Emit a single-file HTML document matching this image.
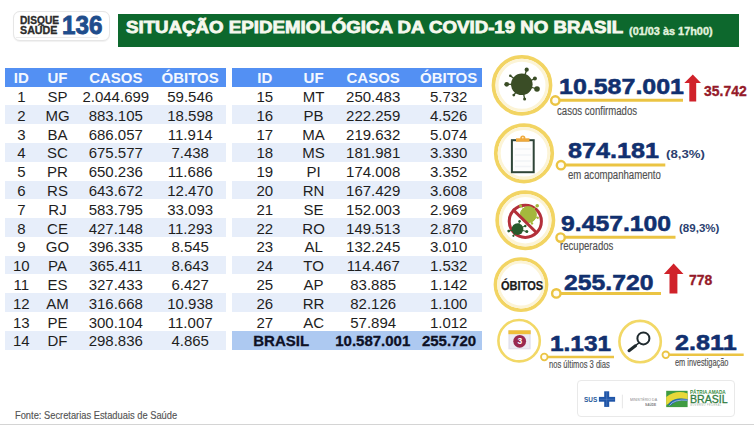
<!DOCTYPE html>
<html><head><meta charset="utf-8">
<style>
html,body{margin:0;padding:0;width:754px;height:425px;overflow:hidden;background:#ffffff;}
body{position:relative;font-family:"Liberation Sans",sans-serif;}
.a{position:absolute;line-height:1;white-space:nowrap;transform-origin:0 0;}
.hdr{position:absolute;background:#5390f3;}
.band{position:absolute;background:#e7eefa;}
.bband{position:absolute;background:#adc9f1;}
.th,.td,.tb{position:absolute;width:120px;text-align:center;line-height:1;white-space:nowrap;}
.th{font-size:15px;font-weight:bold;color:#f4f8ff;}
.td{font-size:15px;color:#1e1e1e;}
.tb{font-size:15px;font-weight:bold;color:#0e1126;-webkit-text-stroke:0.3px #0e1126;}
.num{font-weight:bold;color:#11306f;-webkit-text-stroke:0.55px #11306f;}
.lbl{color:#505050;-webkit-text-stroke:0.15px #505050;}
.red{font-weight:bold;color:#951a29;-webkit-text-stroke:0.35px #951a29;}
svg{position:absolute;left:0;top:0;}
</style></head><body>
<!-- bottom gray line -->
<div style="position:absolute;left:0;top:423.5px;width:754px;height:2px;background:#d4d4d4"></div>

<!-- logo disque saude -->
<div style="position:absolute;left:12.5px;top:11.3px;width:95.5px;height:28px;border:1px solid #e6e6e6;border-radius:7px;background:#fff;box-shadow:0 0.5px 1px rgba(0,0,0,0.06)"></div>
<div class="a" style="left:19.5px;top:15.8px;font-size:10px;font-weight:bold;color:#2b2b2b;-webkit-text-stroke:0.3px #2b2b2b;transform:scaleX(1.02)">DISQUE</div>
<div class="a" style="left:20px;top:25.8px;font-size:10px;font-weight:bold;color:#2b2b2b;-webkit-text-stroke:0.3px #2b2b2b;transform:scaleX(1.07)">SAÚDE</div>
<div style="position:absolute;left:16px;top:36.6px;width:82px;height:1px;background:#ececec"></div>
<div class="a" style="left:61.5px;top:12px;font-size:26px;font-weight:bold;color:#1f4d8c;-webkit-text-stroke:0.9px #1f4d8c;transform:scaleX(0.93)">136</div>

<!-- title bar -->
<div style="position:absolute;left:118.3px;top:14px;width:621px;height:32.7px;background:#0d682d"></div>
<div class="a" style="left:126px;top:19px;font-size:16.5px;font-weight:bold;color:#f6f8ee;-webkit-text-stroke:0.8px #f6f8ee;transform:scaleX(1.133)">SITUAÇÃO EPIDEMIOLÓGICA DA COVID-19 NO BRASIL</div>
<div class="a" style="left:629.3px;top:26.6px;font-size:10px;font-weight:bold;color:#e2f3df;-webkit-text-stroke:0.35px #e2f3df;transform:scaleX(1.09)">(01/03 às 17h00)</div>

<div class="hdr" style="left:5px;top:68.0px;width:221px;height:18.5px"></div>
<div class="th" style="left:-38.70px;top:70.20px">ID</div>
<div class="th" style="left:-2.50px;top:70.20px">UF</div>
<div class="th" style="left:55.80px;top:70.20px">CASOS</div>
<div class="th" style="left:130.20px;top:70.20px">ÓBITOS</div>
<div class="td" style="left:-38.70px;top:89.00px">1</div>
<div class="td" style="left:-2.50px;top:89.00px">SP</div>
<div class="td" style="left:55.80px;top:89.00px">2.044.699</div>
<div class="td" style="left:130.20px;top:89.00px">59.546</div>
<div class="band" style="left:5px;top:105.30px;width:221px;height:18.8px"></div>
<div class="td" style="left:-38.70px;top:107.80px">2</div>
<div class="td" style="left:-2.50px;top:107.80px">MG</div>
<div class="td" style="left:55.80px;top:107.80px">883.105</div>
<div class="td" style="left:130.20px;top:107.80px">18.598</div>
<div class="td" style="left:-38.70px;top:126.60px">3</div>
<div class="td" style="left:-2.50px;top:126.60px">BA</div>
<div class="td" style="left:55.80px;top:126.60px">686.057</div>
<div class="td" style="left:130.20px;top:126.60px">11.914</div>
<div class="band" style="left:5px;top:142.90px;width:221px;height:18.8px"></div>
<div class="td" style="left:-38.70px;top:145.40px">4</div>
<div class="td" style="left:-2.50px;top:145.40px">SC</div>
<div class="td" style="left:55.80px;top:145.40px">675.577</div>
<div class="td" style="left:130.20px;top:145.40px">7.438</div>
<div class="td" style="left:-38.70px;top:164.20px">5</div>
<div class="td" style="left:-2.50px;top:164.20px">PR</div>
<div class="td" style="left:55.80px;top:164.20px">650.236</div>
<div class="td" style="left:130.20px;top:164.20px">11.686</div>
<div class="band" style="left:5px;top:180.50px;width:221px;height:18.8px"></div>
<div class="td" style="left:-38.70px;top:183.00px">6</div>
<div class="td" style="left:-2.50px;top:183.00px">RS</div>
<div class="td" style="left:55.80px;top:183.00px">643.672</div>
<div class="td" style="left:130.20px;top:183.00px">12.470</div>
<div class="td" style="left:-38.70px;top:201.80px">7</div>
<div class="td" style="left:-2.50px;top:201.80px">RJ</div>
<div class="td" style="left:55.80px;top:201.80px">583.795</div>
<div class="td" style="left:130.20px;top:201.80px">33.093</div>
<div class="band" style="left:5px;top:218.10px;width:221px;height:18.8px"></div>
<div class="td" style="left:-38.70px;top:220.60px">8</div>
<div class="td" style="left:-2.50px;top:220.60px">CE</div>
<div class="td" style="left:55.80px;top:220.60px">427.148</div>
<div class="td" style="left:130.20px;top:220.60px">11.293</div>
<div class="td" style="left:-38.70px;top:239.40px">9</div>
<div class="td" style="left:-2.50px;top:239.40px">GO</div>
<div class="td" style="left:55.80px;top:239.40px">396.335</div>
<div class="td" style="left:130.20px;top:239.40px">8.545</div>
<div class="band" style="left:5px;top:255.70px;width:221px;height:18.8px"></div>
<div class="td" style="left:-38.70px;top:258.20px">10</div>
<div class="td" style="left:-2.50px;top:258.20px">PA</div>
<div class="td" style="left:55.80px;top:258.20px">365.411</div>
<div class="td" style="left:130.20px;top:258.20px">8.643</div>
<div class="td" style="left:-38.70px;top:277.00px">11</div>
<div class="td" style="left:-2.50px;top:277.00px">ES</div>
<div class="td" style="left:55.80px;top:277.00px">327.433</div>
<div class="td" style="left:130.20px;top:277.00px">6.427</div>
<div class="band" style="left:5px;top:293.30px;width:221px;height:18.8px"></div>
<div class="td" style="left:-38.70px;top:295.80px">12</div>
<div class="td" style="left:-2.50px;top:295.80px">AM</div>
<div class="td" style="left:55.80px;top:295.80px">316.668</div>
<div class="td" style="left:130.20px;top:295.80px">10.938</div>
<div class="td" style="left:-38.70px;top:314.60px">13</div>
<div class="td" style="left:-2.50px;top:314.60px">PE</div>
<div class="td" style="left:55.80px;top:314.60px">300.104</div>
<div class="td" style="left:130.20px;top:314.60px">11.007</div>
<div class="band" style="left:5px;top:330.90px;width:221px;height:18.8px"></div>
<div class="td" style="left:-38.70px;top:333.40px">14</div>
<div class="td" style="left:-2.50px;top:333.40px">DF</div>
<div class="td" style="left:55.80px;top:333.40px">298.836</div>
<div class="td" style="left:130.20px;top:333.40px">4.865</div>
<div class="hdr" style="left:232px;top:68.0px;width:250px;height:18.5px"></div>
<div class="th" style="left:204.80px;top:70.20px">ID</div>
<div class="th" style="left:253.60px;top:70.20px">UF</div>
<div class="th" style="left:313.20px;top:70.20px">CASOS</div>
<div class="th" style="left:388.70px;top:70.20px">ÓBITOS</div>
<div class="td" style="left:204.80px;top:89.00px">15</div>
<div class="td" style="left:253.60px;top:89.00px">MT</div>
<div class="td" style="left:313.20px;top:89.00px">250.483</div>
<div class="td" style="left:388.70px;top:89.00px">5.732</div>
<div class="band" style="left:232px;top:105.30px;width:250px;height:18.8px"></div>
<div class="td" style="left:204.80px;top:107.80px">16</div>
<div class="td" style="left:253.60px;top:107.80px">PB</div>
<div class="td" style="left:313.20px;top:107.80px">222.259</div>
<div class="td" style="left:388.70px;top:107.80px">4.526</div>
<div class="td" style="left:204.80px;top:126.60px">17</div>
<div class="td" style="left:253.60px;top:126.60px">MA</div>
<div class="td" style="left:313.20px;top:126.60px">219.632</div>
<div class="td" style="left:388.70px;top:126.60px">5.074</div>
<div class="band" style="left:232px;top:142.90px;width:250px;height:18.8px"></div>
<div class="td" style="left:204.80px;top:145.40px">18</div>
<div class="td" style="left:253.60px;top:145.40px">MS</div>
<div class="td" style="left:313.20px;top:145.40px">181.981</div>
<div class="td" style="left:388.70px;top:145.40px">3.330</div>
<div class="td" style="left:204.80px;top:164.20px">19</div>
<div class="td" style="left:253.60px;top:164.20px">PI</div>
<div class="td" style="left:313.20px;top:164.20px">174.008</div>
<div class="td" style="left:388.70px;top:164.20px">3.352</div>
<div class="band" style="left:232px;top:180.50px;width:250px;height:18.8px"></div>
<div class="td" style="left:204.80px;top:183.00px">20</div>
<div class="td" style="left:253.60px;top:183.00px">RN</div>
<div class="td" style="left:313.20px;top:183.00px">167.429</div>
<div class="td" style="left:388.70px;top:183.00px">3.608</div>
<div class="td" style="left:204.80px;top:201.80px">21</div>
<div class="td" style="left:253.60px;top:201.80px">SE</div>
<div class="td" style="left:313.20px;top:201.80px">152.003</div>
<div class="td" style="left:388.70px;top:201.80px">2.969</div>
<div class="band" style="left:232px;top:218.10px;width:250px;height:18.8px"></div>
<div class="td" style="left:204.80px;top:220.60px">22</div>
<div class="td" style="left:253.60px;top:220.60px">RO</div>
<div class="td" style="left:313.20px;top:220.60px">149.513</div>
<div class="td" style="left:388.70px;top:220.60px">2.870</div>
<div class="td" style="left:204.80px;top:239.40px">23</div>
<div class="td" style="left:253.60px;top:239.40px">AL</div>
<div class="td" style="left:313.20px;top:239.40px">132.245</div>
<div class="td" style="left:388.70px;top:239.40px">3.010</div>
<div class="band" style="left:232px;top:255.70px;width:250px;height:18.8px"></div>
<div class="td" style="left:204.80px;top:258.20px">24</div>
<div class="td" style="left:253.60px;top:258.20px">TO</div>
<div class="td" style="left:313.20px;top:258.20px">114.467</div>
<div class="td" style="left:388.70px;top:258.20px">1.532</div>
<div class="td" style="left:204.80px;top:277.00px">25</div>
<div class="td" style="left:253.60px;top:277.00px">AP</div>
<div class="td" style="left:313.20px;top:277.00px">83.885</div>
<div class="td" style="left:388.70px;top:277.00px">1.142</div>
<div class="band" style="left:232px;top:293.30px;width:250px;height:18.8px"></div>
<div class="td" style="left:204.80px;top:295.80px">26</div>
<div class="td" style="left:253.60px;top:295.80px">RR</div>
<div class="td" style="left:313.20px;top:295.80px">82.126</div>
<div class="td" style="left:388.70px;top:295.80px">1.100</div>
<div class="td" style="left:204.80px;top:314.60px">27</div>
<div class="td" style="left:253.60px;top:314.60px">AC</div>
<div class="td" style="left:313.20px;top:314.60px">57.894</div>
<div class="td" style="left:388.70px;top:314.60px">1.012</div>
<div class="bband" style="left:232px;top:330.90px;width:250px;height:18.8px"></div>
<div class="tb" style="left:221.20px;top:333.40px">BRASIL</div>
<div class="tb" style="left:312.75px;top:333.40px">10.587.001</div>
<div class="tb" style="left:389.00px;top:333.40px">255.720</div>

<!-- footer source -->
<div class="a lbl" style="left:15.2px;top:409.5px;font-size:11px;color:#555;transform:scaleX(0.847)">Fonte: Secretarias Estaduais de Saúde</div>

<svg width="754" height="425" viewBox="0 0 754 425">
  <g fill="none">
    <!-- big rings -->
    <circle cx="522" cy="85.3" r="28.5" stroke="#f2d462" stroke-width="3.8"/>
    <circle cx="522" cy="85.3" r="25" stroke="#fcf4d6" stroke-width="3"/>
    <circle cx="524" cy="153.3" r="28.2" stroke="#f2d462" stroke-width="3.8"/>
    <circle cx="524" cy="153.3" r="24.8" stroke="#fcf4d6" stroke-width="3"/>
    <circle cx="525.3" cy="220.2" r="28.1" stroke="#f2d462" stroke-width="3.8"/>
    <circle cx="525.3" cy="220.2" r="24.7" stroke="#fcf4d6" stroke-width="3"/>
    <circle cx="521" cy="284.6" r="25.6" stroke="#f2d462" stroke-width="3.6"/>
    <circle cx="521" cy="284.6" r="22.4" stroke="#fcf4d6" stroke-width="2.8"/>
    <circle cx="519.1" cy="340.7" r="20.7" stroke="#f2d866" stroke-width="2.6"/>
    <circle cx="640.1" cy="341.6" r="20.7" stroke="#f2d866" stroke-width="2.6"/>
  </g>
  <!-- connectors -->
  <g stroke="#ebc443" fill="#fffdf5">
    <line x1="558" y1="100.3" x2="683" y2="100.3" stroke-width="3"/>
    <circle cx="555.3" cy="100.5" r="4.2" stroke-width="2.4"/>
    <line x1="563" y1="165" x2="665.3" y2="165" stroke-width="3"/>
    <circle cx="561" cy="165.2" r="4.2" stroke-width="2.4"/>
    <line x1="563" y1="237.3" x2="675.5" y2="237.3" stroke-width="3"/>
    <circle cx="560.6" cy="237.6" r="4.2" stroke-width="2.4"/>
    <line x1="559" y1="293.4" x2="661" y2="293.4" stroke-width="3"/>
    <circle cx="556.3" cy="293.4" r="4.2" stroke-width="2.4"/>
    <line x1="546" y1="356.9" x2="614" y2="356.9" stroke-width="2.5"/>
    <circle cx="544.3" cy="357" r="3.3" stroke-width="1.8"/>
    <line x1="668" y1="354.8" x2="743.7" y2="354.8" stroke-width="2.5"/>
    <circle cx="665.8" cy="354.8" r="3.3" stroke-width="1.8"/>
  </g>
  <!-- virus icon -->
  <g fill="#3a4d26" stroke="#3a4d26" stroke-width="1.3">
    <line x1="521.8" y1="84.3" x2="526.7" y2="69.7"/>
    <line x1="521.8" y1="84.3" x2="534.9" y2="78.6"/>
    <line x1="521.8" y1="84.3" x2="537" y2="89"/>
    <line x1="521.8" y1="84.3" x2="524.6" y2="98.9"/>
    <line x1="521.8" y1="84.3" x2="513.8" y2="95.1"/>
    <line x1="521.8" y1="84.3" x2="506.7" y2="84.3"/>
    <line x1="521.8" y1="84.3" x2="510.3" y2="75.8"/>
    <circle cx="521.8" cy="84.3" r="10.8" stroke="none"/>
    <circle cx="526.7" cy="69.7" r="2.1" stroke="none"/>
    <circle cx="534.9" cy="78.6" r="2" stroke="none"/>
    <circle cx="537" cy="89" r="2.8" stroke="none"/>
    <circle cx="524.6" cy="98.9" r="1.5" stroke="none"/>
    <circle cx="513.8" cy="95.1" r="1.4" stroke="none"/>
    <circle cx="506.7" cy="84.3" r="2.4" stroke="none"/>
    <circle cx="510.3" cy="75.8" r="1.3" stroke="none"/>
  </g>
  <!-- clipboard -->
  <rect x="511.9" y="140.2" width="21.8" height="32" fill="#fdfdfd" stroke="#2f4538" stroke-width="2"/>
  <g stroke="#f1f3f6" stroke-width="1.5">
    <line x1="515" y1="149" x2="531" y2="149"/>
    <line x1="515" y1="155" x2="531" y2="155"/>
    <line x1="515" y1="161" x2="531" y2="161"/>
    <line x1="515" y1="166.5" x2="531" y2="166.5"/>
  </g>
  <rect x="516" y="138.3" width="13.5" height="3.4" fill="#f0a93a"/>
  <circle cx="522.8" cy="138" r="2.6" fill="#f0a93a"/><circle cx="522.8" cy="137.6" r="0.9" fill="#fde8c0"/>
  <!-- recovered icon -->
  <circle cx="525.3" cy="221.3" r="16.1" fill="none" stroke="#b3303a" stroke-width="3"/>
  <g fill="#a4b83c" stroke="#a4b83c" stroke-width="1">
    <circle cx="528.4" cy="214.6" r="8"/>
    <line x1="528.4" y1="214.6" x2="520.6" y2="205.8"/><line x1="528.4" y1="214.6" x2="537.2" y2="205.8"/>
    <line x1="528.4" y1="214.6" x2="537.7" y2="217.7"/><line x1="528.4" y1="214.6" x2="532" y2="223.4"/>
    <circle cx="520.6" cy="205.8" r="1.5" stroke="none"/><circle cx="537.2" cy="205.8" r="1.8" stroke="none"/>
    <circle cx="537.7" cy="217.7" r="1.2" stroke="none"/><circle cx="532" cy="223.4" r="1.2" stroke="none"/>
  </g>
  <line x1="512.8" y1="209.4" x2="536.1" y2="232.2" stroke="#b3303a" stroke-width="3"/>
  <g fill="#285a2c" stroke="#285a2c" stroke-width="1">
    <circle cx="517.5" cy="229.1" r="5.9" stroke="none"/>
    <line x1="517.5" y1="229.1" x2="519.6" y2="221.3"/><line x1="517.5" y1="229.1" x2="525.3" y2="226"/>
    <line x1="517.5" y1="229.1" x2="526.8" y2="231.6"/><line x1="517.5" y1="229.1" x2="508.7" y2="231.1"/>
    <line x1="517.5" y1="229.1" x2="513.4" y2="235.8"/>
    <circle cx="519.6" cy="221.3" r="1.3" stroke="none"/><circle cx="525.3" cy="226" r="1.2" stroke="none"/>
    <circle cx="526.8" cy="231.6" r="1.5" stroke="none"/><circle cx="508.7" cy="231.1" r="1.4" stroke="none"/>
    <circle cx="513.4" cy="235.8" r="1.1" stroke="none"/>
  </g>
  <!-- calendar -->
  <rect x="508.4" y="330.3" width="22.3" height="19" fill="#e3e2ec"/>
  <rect x="510" y="334" width="19.1" height="14" fill="#ecebf3"/>
  <rect x="508.4" y="330.3" width="22.3" height="3.9" fill="#efbf3a"/>
  <circle cx="519.7" cy="341.3" r="6.4" fill="#9a2a50"/>
  <text x="519.8" y="344.4" font-family="Liberation Sans" font-size="8.5" font-weight="bold" fill="#fff" text-anchor="middle">3</text>
  <!-- magnifier -->
  <circle cx="643.4" cy="338.4" r="6" fill="none" stroke="#1f2a2e" stroke-width="2"/>
  <line x1="639.2" y1="342.6" x2="634.5" y2="346.5" stroke="#1f2a2e" stroke-width="1.6"/>
  <line x1="635.5" y1="345.8" x2="629" y2="350.7" stroke="#1f2a2e" stroke-width="3" stroke-linecap="round"/>
  <!-- arrows -->
  <path d="M692.8 74.4 L701 83 L696.2 83 L696.2 101.6 L689.3 101.6 L689.3 83 L684.3 83 Z" fill="#d0222a"/>
  <path d="M673.6 263.4 L683.5 274 L677.4 274 L677.4 293.4 L669.5 293.4 L669.5 274 L663.9 274 Z" fill="#d0222a"/>
</svg>

<!-- right panel texts -->
<div class="a num" style="left:558.5px;top:76px;font-size:22.5px;transform:scaleX(1.11)">10.587.001</div>
<div class="a red" style="left:703.8px;top:83px;font-size:15.5px;transform:scaleX(0.9)">35.742</div>
<div class="a lbl" style="left:557px;top:105px;font-size:12px;transform:scaleX(0.80)">casos confirmados</div>

<div class="a num" style="left:567.5px;top:140px;font-size:22px;transform:scaleX(1.145)">874.181</div>
<div class="a" style="left:666px;top:148.5px;font-size:11px;font-weight:bold;color:#2b3f70;transform:scaleX(1.2)">(8,3%)</div>
<div class="a lbl" style="left:568px;top:169px;font-size:12px;transform:scaleX(0.80)">em acompanhamento</div>

<div class="a num" style="left:561px;top:212.7px;font-size:22.5px;transform:scaleX(1.1)">9.457.100</div>
<div class="a" style="left:679.2px;top:222.5px;font-size:11px;font-weight:bold;color:#2b3f70;transform:scaleX(1.05)">(89,3%)</div>
<div class="a lbl" style="left:560px;top:239.5px;font-size:12px;transform:scaleX(0.80)">recuperados</div>

<div class="a" style="left:501px;top:278.6px;font-size:13px;font-weight:bold;color:#1b1b1b;-webkit-text-stroke:0.25px #1b1b1b;transform:scaleX(0.85)">ÓBITOS</div>
<div class="a num" style="left:564px;top:271.5px;font-size:22.5px;transform:scaleX(1.1)">255.720</div>
<div class="a red" style="left:688.7px;top:272px;font-size:15px;transform:scaleX(0.93)">778</div>

<div class="a num" style="left:549.5px;top:332.5px;font-size:22px;transform:scaleX(1.11)">1.131</div>
<div class="a lbl" style="left:549px;top:359.5px;font-size:10px;transform:scaleX(0.76)">nos últimos 3 dias</div>
<div class="a num" style="left:675px;top:332px;font-size:22px;transform:scaleX(1.145)">2.811</div>
<div class="a lbl" style="left:674.5px;top:358px;font-size:10px;transform:scaleX(0.74)">em investigação</div>

<!-- gov logos -->
<div style="position:absolute;left:576.5px;top:380.3px;width:156.5px;height:34.5px;border:1px solid #e9e9e9;border-radius:4px;background:#fff"></div>
<div class="a" style="left:583.6px;top:396px;font-size:7px;font-weight:bold;color:#2a5a9a;transform:scaleX(0.92)">SUS</div>
<svg width="754" height="425" viewBox="0 0 754 425">
  <rect x="604.2" y="391.3" width="5" height="15.6" fill="#1f55a8"/>
  <rect x="598.9" y="396.9" width="16.2" height="4.8" fill="#1f55a8"/>
  <g stroke="#6f93cc" stroke-width="0.4"><line x1="606.7" y1="392" x2="606.7" y2="406"/><line x1="599.5" y1="399.3" x2="614.5" y2="399.3"/></g>
  <line x1="622.4" y1="394.7" x2="622.4" y2="408.3" stroke="#dcdcdc" stroke-width="0.7"/>
  <rect x="666.2" y="390.8" width="21.4" height="16.3" fill="#3f9b42"/>
  <path d="M666.2 397 Q676 389.5 687.6 393.5 L687.6 400.5 Q677 395 668 404 L666.2 405 Z" fill="#e7d83a"/>
  <path d="M668 405 Q672 397 687.6 399 L687.6 401.2 Q676 399.5 671 405.5 Z" fill="#2b6ab0"/>
  <path d="M669.5 405.5 Q674 399 687.6 400.2" fill="none" stroke="#ffffff" stroke-width="0.5"/>
</svg>
<div class="a" style="left:629.5px;top:398.7px;font-size:3.8px;color:#8a8a8a;transform:scaleX(0.95)">MINISTÉRIO DA</div>
<div class="a" style="left:645.1px;top:403.5px;font-size:3.8px;font-weight:bold;color:#7a7a7a;transform:scaleX(0.84)">SAÚDE</div>
<div class="a" style="left:690px;top:389.5px;font-size:5.2px;font-weight:bold;color:#3a8d45;transform:scaleX(0.9)">PÁTRIA AMADA</div>
<div class="a" style="left:689.6px;top:394.2px;font-size:11.5px;color:#2f7c40;-webkit-text-stroke:0.3px #2f7c40;transform:scaleX(0.92)">BRASIL</div>
<div class="a" style="left:690px;top:405px;font-size:2.6px;color:#9aaa9a;letter-spacing:0.5px;transform:scaleX(0.95)">GOVERNO FEDERAL</div>
</body></html>
